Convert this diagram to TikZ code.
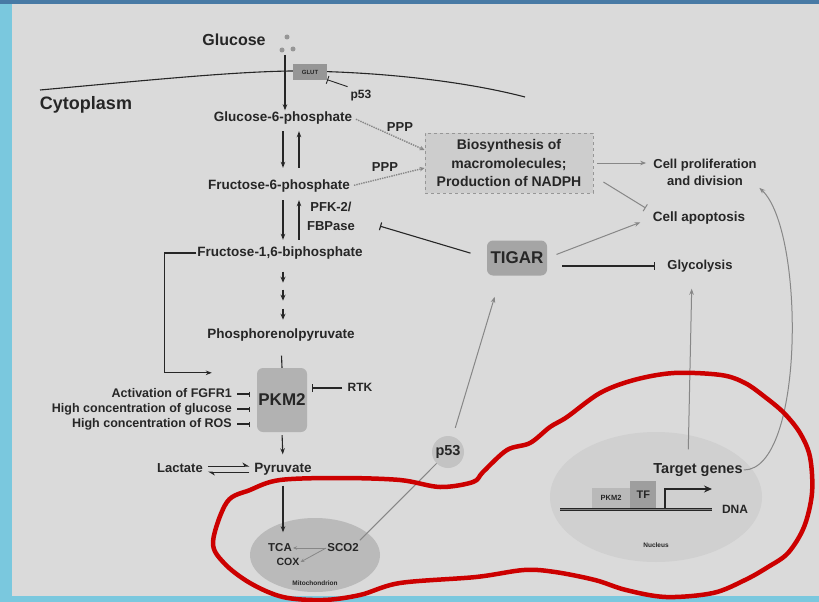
\documentclass[tikz,border=0pt]{standalone}
\usepackage{fontspec}
\setmainfont{Liberation Sans}
\usetikzlibrary{arrows.meta, positioning, calc, shapes.geometric}

\definecolor{paper}{RGB}{218,218,218}
\definecolor{ink}{RGB}{38,38,38}
\definecolor{arrowgray}{RGB}{135,135,135}
\definecolor{boxgray}{RGB}{178,178,178}
\definecolor{tigargray}{RGB}{165,165,165}
\definecolor{biogray}{RGB}{205,205,205}
\definecolor{dashgray}{RGB}{150,150,150}
\definecolor{mitogray}{RGB}{186,186,186}
\definecolor{nucgray}{RGB}{208,208,208}
\definecolor{pgray}{RGB}{195,195,195}
\definecolor{glutgray}{RGB}{150,150,150}
\definecolor{pkmlight}{RGB}{185,185,185}
\definecolor{tfgray}{RGB}{158,158,158}
\definecolor{framelight}{RGB}{122,200,222}
\definecolor{framedark}{RGB}{72,122,165}
\definecolor{redpen}{RGB}{204,0,0}

\begin{document}
\begin{tikzpicture}[x=1pt, y=-1pt,
    lbl/.style={font=\fontsize{13.5}{17}\selectfont\bfseries, text=ink, inner sep=1pt, text height=10pt, text depth=3pt},
    slbl/.style={lbl, font=\fontsize{12.5}{15}\selectfont\bfseries},
    mlbl/.style={font=\fontsize{13}{17}\selectfont\bfseries, text=ink, inner sep=1pt, align=center},
    tinylbl/.style={font=\fontsize{6.5}{8}\selectfont\bfseries, text=ink, inner sep=0pt},
    enzyme/.style={rounded corners=6pt, fill=boxgray, font=\fontsize{17}{20}\selectfont\bfseries, text=ink, inner sep=0pt},
    arr/.style={-{Stealth[length=6pt, width=4.5pt]}, line width=1.1pt, draw=ink},
    sarr/.style={-{Stealth[length=6pt, width=5pt]}, line width=1.1pt, draw=ink},
    garr/.style={-{Stealth[length=6pt, width=4.5pt]}, line width=1pt, draw=arrowgray},
    inh/.style={-{Bar[width=8pt]}, line width=1.1pt, draw=ink},
    ginh/.style={-{Bar[width=8pt]}, line width=1pt, draw=arrowgray},
    harp/.style={-{Stealth[harpoon, length=6pt, width=7pt]}, line width=1pt, draw=ink},
    dotarr/.style={-{Stealth[length=5pt, width=4.5pt]}, densely dotted, line width=1.4pt, draw=arrowgray},
]
    \useasboundingbox (0,0) rectangle (819,602);
    \fill[paper] (0,0) rectangle (819,602);
    \fill[framelight] (0,0) rectangle (12,602);
    \fill[framelight] (0,596) rectangle (819,602);
    \fill[framedark] (0,0) rectangle (819,4);

    % Membrane
    \draw[ink, line width=1.1pt] (40,90) .. controls (150,80) and (230,72) .. (290,71) .. controls (370,71) and (460,80) .. (525,97);

    % Compartments
    \node[ellipse, fill=mitogray, minimum width=130pt, minimum height=74pt, inner sep=0pt] (mito) at (315,555) {};
    \node[ellipse, fill=nucgray, minimum width=212pt, minimum height=130pt, inner sep=0pt] (nucleus) at (656,497) {};

    % Glucose uptake
    \foreach \p in {(287,37), (282,50), (293,49)}
        \fill[glutgray] \p circle (2.5);
    \coordinate (glcin) at (285,55);
    \node[lbl, font=\fontsize{16}{19}\selectfont\bfseries] (glc) at (234,42) {Glucose};
    \node[lbl, font=\fontsize{18}{21}\selectfont\bfseries] (cyto) at (86,106) {Cytoplasm};
    \node[fill=glutgray, minimum width=34pt, minimum height=15pt, inner sep=0pt, font=\fontsize{6}{7}\selectfont\bfseries, text=ink] (glut) at (310,72) {GLUT};
    \node[slbl, font=\fontsize{12}{14}\selectfont\bfseries] (ptop) at (361,95) {p53};

    % Glycolysis
    \node[lbl] (g6p) at (283,118) {Glucose-6-phosphate};
    \node[lbl] (f6p) at (279,186) {Fructose-6-phosphate};
    \node[mlbl, font=\fontsize{13}{19}\selectfont\bfseries] (pfk) at (331,216) {PFK-2/\\FBPase};
    \node[lbl] (f16bp) at (280,253) {Fructose-1,6-biphosphate};
    \node[lbl] (pep) at (281,335) {Phosphorenolpyruvate};
    \node[enzyme, minimum width=50pt, minimum height=64pt] (pkm) at (282,400) {PKM2};
    \node[slbl, font=\fontsize{12}{14}\selectfont\bfseries] (rtk) at (360,388) {RTK};
    \node[slbl, anchor=east] (fgfr) at (233,394) {Activation of FGFR1};
    \node[slbl, anchor=east] (hglc) at (233,409) {High concentration of glucose};
    \node[slbl, anchor=east] (hros) at (233,424) {High concentration of ROS};
    \node[lbl] (pyr) at (283,469) {Pyruvate};
    \node[lbl, font=\fontsize{13}{16}\selectfont\bfseries] (lac) at (180,469) {Lactate};

    % Mitochondrion
    \node[slbl, font=\fontsize{11.5}{14}\selectfont\bfseries] (tca) at (280,548) {TCA};
    \node[slbl, font=\fontsize{10.5}{13}\selectfont\bfseries] (cox) at (288,562) {COX};
    \node[slbl, font=\fontsize{11.5}{14}\selectfont\bfseries] (sco) at (343,548) {SCO2};
    \node[tinylbl] (mitolbl) at (315,583) {Mitochondrion};

    % p53 / TIGAR
    \node[circle, fill=pgray, minimum size=32pt, inner sep=0pt, font=\fontsize{14.5}{17}\selectfont\bfseries, text=ink] (pf) at (448,452) {p53};
    \node[enzyme, fill=tigargray, minimum width=60pt, minimum height=35pt] (tigar) at (517,258) {TIGAR};
    \node[draw=dashgray, dashed, fill=biogray, line width=0.8pt, minimum width=168pt, minimum height=60pt, inner sep=2pt, align=center, font=\fontsize{14}{18.5}\selectfont\bfseries, text=ink] (bio) at (509,163) {Biosynthesis of\\macromolecules;\\Production of NADPH};
    \node[lbl, font=\fontsize{13}{16}\selectfont\bfseries] (pppa) at (400,128) {PPP};
    \node[lbl, font=\fontsize{13}{16}\selectfont\bfseries] (pppb) at (385,168) {PPP};

    % Outcomes
    \node[mlbl] (prolif) at (705,172) {Cell proliferation\\and division};
    \node[lbl, font=\fontsize{13.5}{16}\selectfont\bfseries] (apop) at (699,218) {Cell apoptosis};
    \node[lbl, font=\fontsize{13}{16}\selectfont\bfseries] (glyco) at (700,266) {Glycolysis};

    % Nucleus
    \coordinate (dnaL) at (560,509);
    \coordinate (dnaR) at (712,509);
    \draw[ink, line width=1pt, double=gray, double distance=1pt] (dnaL) -- (dnaR);
    \node[fill=pkmlight, minimum width=38pt, minimum height=20pt, inner sep=0pt, font=\fontsize{7.5}{9}\selectfont\bfseries, text=ink] (pkmtf) at (611,498) {PKM2};
    \node[fill=tfgray, minimum width=26pt, minimum height=27pt, inner sep=0pt, font=\fontsize{11}{13}\selectfont\bfseries, text=ink, anchor=south west] (tf) at (pkmtf.south east) {TF};
    \coordinate (tss) at (665,508);
    \draw[-{Stealth[length=8pt, width=7pt]}, line width=1.5pt, ink] (tss) |- ([yshift=20pt]dnaR);
    \node[lbl, font=\fontsize{12}{14}\selectfont\bfseries] (dnalbl) at (735,510) {DNA};
    \node[lbl, font=\fontsize{14.5}{17}\selectfont\bfseries] (target) at (698,470) {Target genes};
    \node[tinylbl] (nuclbl) at (656,545) {Nucleus};

    % Connectors: glycolysis
    \draw[arr] (glcin) -- (glcin |- g6p.north);
    \draw[inh, line width=0.9pt, shorten <=2pt] (ptop.north west) -- (glut.south east);
    \draw[arr, shorten <=5.5pt, shorten >=10.5pt] (g6p.south) -- (g6p.south |- f6p.north);
    \draw[arr, shorten <=10.5pt, shorten >=5.5pt] ([xshift=16pt]g6p.south |- f6p.north) -- ([xshift=16pt]g6p.south);
    \draw[arr, shorten <=6.5pt, shorten >=5.5pt] (f6p.south -| g6p.south) -- (g6p.south |- f16bp.north);
    \draw[arr, shorten <=5.5pt, shorten >=6.5pt] ([xshift=16pt]g6p.south |- f16bp.north) -- ([xshift=16pt]f6p.south -| g6p.south);
    \foreach \s in {11,29,48}
        \draw[sarr] ([xshift=3pt, yshift=-\s pt]f16bp.south) -- ++(0,11);
    \draw[arr, shorten >=45pt] (f16bp.west) -- ++(-32,0) |- ([yshift=-5pt]pkm.north west);
    \draw[ink, line width=1.1pt, shorten <=13pt] (pep.south) -- (pkm.north);
    \draw[inh, shorten <=4pt, shorten >=5pt] (rtk.west) -- (pkm.east |- rtk.west);
    \foreach \n in {fgfr, hglc, hros}
        \draw[inh, -{Bar[width=5pt]}, shorten <=4pt] (\n.east) -- ([xshift=-7pt]pkm.west |- \n.east);
    \draw[arr, shorten <=3pt, shorten >=7pt] (pkm.south) -- (pyr.north);
    \draw[harp, shorten <=4pt, shorten >=4pt] ([yshift=3pt]lac.east) -- ([yshift=3pt]pyr.west);
    \draw[harp, shorten <=4pt, shorten >=4pt] ([yshift=-3pt]pyr.west) -- ([yshift=-3pt]lac.east);
    \draw[arr, shorten <=9pt, shorten >=8pt] (pyr.south) -- (pyr.south |- tca.north);

    % Connectors: mitochondrion and p53
    \draw[garr, line width=0.8pt, -{Stealth[length=4pt, width=3.5pt]}] (sco.west) -- (tca.east);
    \draw[garr, line width=0.8pt, -{Stealth[length=4pt, width=3.5pt]}] (sco.west) -- (cox.east);
    \draw[arrowgray, line width=1pt] (sco.north east) -- (pf);
    \draw[garr, shorten <=9pt, shorten >=22pt] (pf) -- ([xshift=-16pt]tigar.south);

    % Connectors: PPP and TIGAR
    \draw[dotarr, shorten <=3pt] (g6p.east) -- ([yshift=13pt]bio.west);
    \draw[dotarr, shorten <=3pt] (f6p.east) -- ([yshift=-5pt]bio.west);
    \draw[inh, shorten <=17pt, shorten >=25pt] (tigar.west) -- ([yshift=-3pt]pfk.east);
    \draw[inh, shorten <=15pt, shorten >=11pt] (tigar.east |- glyco.west) -- (glyco.west);
    \draw[garr, shorten <=10pt, shorten >=12pt] (tigar.east) -- (apop.west);
    \draw[garr, shorten <=4pt, shorten >=6pt] (bio.east) -- (bio.east -| prolif.west);
    \draw[ginh] ([xshift=10pt, yshift=-19pt]bio.east) -- ([xshift=-6pt, yshift=10pt]apop.west);

    % Connectors: nucleus
    \draw[garr, shorten <=13pt, shorten >=15pt] ([xshift=-10pt]target.north) -- ([xshift=-8pt]glyco.south);
    \draw[garr, shorten >=2pt] (target.east) .. controls (805,470) and (805,230) .. (prolif.south east);

    % Hand-drawn outline
    \draw[redpen, line width=4.5pt, line join=round] plot[smooth cycle, tension=0.55] coordinates {
        (213,542) (227,502) (250,490) (280,480) (340,478) (400,480) (440,487)
        (473,482) (483,472) (507,450) (530,443) (550,427) (567,417) (600,393)
        (634,380) (674,373) (721,375) (745,383) (765,397) (784,413) (800,433)
        (810,457) (812,493) (804,527) (788,553) (768,567) (745,580) (713,593)
        (666,597) (626,590) (595,580) (555,572) (524,570) (476,577) (400,583)
        (360,595) (323,600) (283,597) (250,583) (224,563)};
\end{tikzpicture}
\end{document}
